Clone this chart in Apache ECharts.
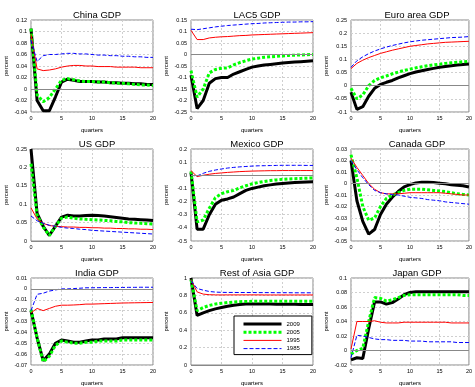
<!DOCTYPE html>
<html><head><meta charset="utf-8">
<script src="https://cdn.jsdelivr.net/npm/echarts@6/dist/echarts.min.js"></script>
<style>html,body{margin:0;padding:0;background:#fff}#c{width:475px;height:387px}</style>
</head><body><div id="c"></div>
<script>
const quarters = [0,1,2,3,4,5,6,7,8,9,10,11,12,13,14,15,16,17,18,19,20];
const seriesNames = ['2009','2005','1995','1985'];
const panelTitles = ['China GDP','LAC5 GDP','Euro area GDP','US GDP','Mexico GDP','Canada GDP','India GDP','Rest of Asia GDP','Japan GDP'];

const china2009 = [0.105,-0.02,-0.038,-0.038,-0.014,0.012,0.017,0.015,0.013,0.013,0.013,0.012,0.012,0.011,0.011,0.010,0.010,0.009,0.009,0.008,0.008];
const china2005 = [0.105,-0.01,-0.022,-0.015,0.0,0.015,0.018,0.016,0.014,0.013,0.013,0.012,0.012,0.011,0.010,0.010,0.009,0.008,0.007,0.007,0.006];
const china1995 = [0.095,0.035,0.032,0.033,0.035,0.038,0.040,0.041,0.041,0.040,0.040,0.039,0.039,0.039,0.038,0.038,0.038,0.038,0.037,0.037,0.037];
const china1985 = [0.085,0.048,0.058,0.060,0.060,0.061,0.062,0.062,0.061,0.061,0.060,0.059,0.059,0.058,0.058,0.057,0.057,0.056,0.056,0.055,0.055];

const lac2009 = [-0.09,-0.235,-0.2,-0.125,-0.105,-0.1,-0.1,-0.085,-0.075,-0.065,-0.055,-0.05,-0.046,-0.043,-0.04,-0.037,-0.035,-0.033,-0.031,-0.029,-0.027];
const lac2005 = [-0.07,-0.185,-0.15,-0.08,-0.065,-0.06,-0.058,-0.045,-0.035,-0.027,-0.02,-0.016,-0.012,-0.01,-0.008,-0.006,-0.004,-0.003,-0.002,-0.001,0.0];
const lac1995 = [0.105,0.065,0.065,0.072,0.075,0.077,0.078,0.08,0.082,0.083,0.085,0.086,0.087,0.088,0.089,0.09,0.091,0.092,0.093,0.094,0.095];
const lac1985 = [0.11,0.108,0.112,0.116,0.12,0.123,0.126,0.128,0.13,0.132,0.134,0.135,0.137,0.138,0.139,0.14,0.141,0.141,0.142,0.142,0.143];

const euro2009 = [-0.025,-0.09,-0.08,-0.04,-0.01,0.005,0.013,0.02,0.03,0.038,0.046,0.052,0.057,0.062,0.066,0.07,0.073,0.076,0.079,0.081,0.083];
const euro2005 = [-0.01,-0.05,-0.035,0.0,0.02,0.03,0.037,0.045,0.052,0.058,0.063,0.068,0.072,0.076,0.079,0.082,0.085,0.087,0.089,0.091,0.093];
const euro1995 = [0.065,0.085,0.097,0.107,0.115,0.123,0.129,0.135,0.14,0.145,0.15,0.153,0.156,0.159,0.161,0.163,0.165,0.166,0.167,0.168,0.169];
const euro1985 = [0.07,0.095,0.11,0.122,0.132,0.14,0.147,0.153,0.158,0.163,0.167,0.17,0.173,0.175,0.177,0.179,0.181,0.183,0.184,0.185,0.187];

const us2009 = [0.25,0.075,0.04,0.015,0.04,0.065,0.07,0.068,0.068,0.069,0.07,0.069,0.068,0.066,0.064,0.062,0.06,0.059,0.058,0.057,0.056];
const us2005 = [0.21,0.07,0.038,0.015,0.04,0.062,0.065,0.062,0.06,0.059,0.058,0.057,0.056,0.055,0.053,0.052,0.05,0.049,0.048,0.047,0.046];
const us1995 = [0.09,0.06,0.048,0.042,0.04,0.039,0.038,0.038,0.037,0.037,0.036,0.036,0.035,0.035,0.034,0.034,0.033,0.033,0.032,0.032,0.031];
const us1985 = [0.068,0.055,0.048,0.043,0.04,0.037,0.035,0.034,0.032,0.031,0.029,0.028,0.027,0.026,0.025,0.024,0.023,0.022,0.021,0.02,0.019];

const mex2009 = [0.02,-0.41,-0.41,-0.3,-0.22,-0.19,-0.18,-0.165,-0.14,-0.115,-0.1,-0.09,-0.08,-0.073,-0.067,-0.062,-0.058,-0.055,-0.053,-0.051,-0.05];
const mex2005 = [0.03,-0.355,-0.34,-0.25,-0.17,-0.14,-0.125,-0.115,-0.095,-0.08,-0.065,-0.055,-0.047,-0.04,-0.035,-0.031,-0.028,-0.026,-0.024,-0.022,-0.021];
const mex1995 = [0.035,-0.01,0.0,0.008,0.014,0.018,0.022,0.025,0.028,0.03,0.032,0.033,0.034,0.035,0.035,0.036,0.036,0.036,0.036,0.036,0.036];
const mex1985 = [0.0,-0.005,0.015,0.03,0.04,0.048,0.055,0.06,0.064,0.067,0.07,0.072,0.073,0.074,0.075,0.076,0.076,0.076,0.076,0.075,0.075];

const can2009 = [0.02,-0.015,-0.033,-0.044,-0.04,-0.027,-0.018,-0.012,-0.007,-0.003,-0.001,0.0005,0.001,0.001,0.0008,0.0003,-0.0003,-0.001,-0.0015,-0.002,-0.003];
const can2005 = [0.025,0.005,-0.02,-0.032,-0.03,-0.02,-0.013,-0.01,-0.008,-0.006,-0.005,-0.005,-0.005,-0.0055,-0.006,-0.0065,-0.007,-0.008,-0.009,-0.0095,-0.01];
const can1995 = [0.022,0.014,0.007,0.0,-0.005,-0.008,-0.009,-0.009,-0.009,-0.0085,-0.008,-0.008,-0.008,-0.008,-0.008,-0.008,-0.0085,-0.009,-0.0095,-0.01,-0.01];
const can1985 = [0.02,0.012,0.005,-0.001,-0.006,-0.008,-0.009,-0.0095,-0.01,-0.011,-0.012,-0.0125,-0.013,-0.014,-0.0145,-0.015,-0.016,-0.0165,-0.017,-0.0175,-0.018];

const ind2009 = [-0.02,-0.045,-0.066,-0.06,-0.05,-0.047,-0.048,-0.049,-0.049,-0.048,-0.047,-0.047,-0.046,-0.046,-0.046,-0.045,-0.045,-0.045,-0.045,-0.045,-0.045];
const ind2005 = [-0.019,-0.045,-0.067,-0.062,-0.052,-0.048,-0.049,-0.05,-0.05,-0.049,-0.049,-0.048,-0.048,-0.048,-0.048,-0.047,-0.047,-0.047,-0.047,-0.047,-0.047];
const ind1995 = [-0.022,-0.018,-0.02,-0.018,-0.016,-0.015,-0.015,-0.0148,-0.0145,-0.014,-0.014,-0.0138,-0.0136,-0.0134,-0.0132,-0.013,-0.0129,-0.0128,-0.0127,-0.0126,-0.0125];
const ind1985 = [-0.02,-0.005,-0.004,-0.002,-0.001,0.0,0.0,0.0003,0.0006,0.001,0.001,0.0011,0.0012,0.0012,0.0013,0.0013,0.0014,0.0014,0.0015,0.0015,0.0015];

const roa2009 = [1.0,0.57,0.6,0.625,0.645,0.66,0.675,0.687,0.695,0.7,0.7,0.7,0.7,0.7,0.699,0.698,0.697,0.697,0.696,0.695,0.695];
const roa2005 = [0.98,0.625,0.66,0.685,0.7,0.71,0.718,0.724,0.728,0.73,0.732,0.733,0.733,0.733,0.733,0.733,0.733,0.732,0.732,0.732,0.732];
const roa1995 = [0.98,0.84,0.815,0.808,0.806,0.805,0.806,0.806,0.806,0.806,0.806,0.806,0.805,0.805,0.805,0.805,0.805,0.805,0.805,0.805,0.805];
const roa1985 = [0.97,0.88,0.86,0.845,0.838,0.835,0.834,0.834,0.833,0.833,0.833,0.832,0.832,0.832,0.831,0.831,0.831,0.83,0.83,0.83,0.83];

const jpn2009 = [-0.013,-0.01,-0.011,0.03,0.067,0.067,0.064,0.066,0.071,0.077,0.08,0.081,0.081,0.081,0.081,0.081,0.081,0.081,0.081,0.081,0.081];
const jpn2005 = [-0.005,0.0,0.003,0.04,0.073,0.072,0.068,0.07,0.073,0.076,0.077,0.077,0.077,0.077,0.077,0.077,0.077,0.077,0.077,0.076,0.076];
const jpn1995 = [0.002,0.04,0.04,0.04,0.041,0.039,0.038,0.038,0.038,0.039,0.039,0.039,0.039,0.039,0.039,0.039,0.039,0.038,0.038,0.038,0.038];
const jpn1985 = [-0.01,0.021,0.02,0.018,0.016,0.015,0.015,0.014,0.014,0.014,0.013,0.013,0.013,0.012,0.012,0.012,0.012,0.012,0.011,0.011,0.011];

const yMins = [-0.04,-0.25,-0.1, 0,-0.5,-0.05, -0.07,0,-0.02];
const yMaxs = [0.12,0.15,0.25, 0.25,0.2,0.03, 0.01,1,0.1];
const yIntervals = [0.02,0.05,0.05, 0.05,0.1,0.01, 0.01,0.2,0.02];

const panelData = [
  [china2009,china2005,china1995,china1985],
  [lac2009,lac2005,lac1995,lac1985],
  [euro2009,euro2005,euro1995,euro1985],
  [us2009,us2005,us1995,us1985],
  [mex2009,mex2005,mex1995,mex1985],
  [can2009,can2005,can1995,can1985],
  [ind2009,ind2005,ind1995,ind1985],
  [roa2009,roa2005,roa1995,roa1985],
  [jpn2009,jpn2005,jpn1995,jpn1985]
];

const colLefts = [31,191,351];
const rowTops = [20,149,278];
const W = 122, H = 92;
const styles = [
  {color:'#000000', width:3, type:'solid'},
  {color:'#00ff00', width:3, type:[3,2]},
  {color:'#ff0000', width:1, type:'solid'},
  {color:'#0000ff', width:1, type:[4,2]}
];
const FONT = 'Liberation Sans, Arial, sans-serif';

const grid=[], xAxis=[], yAxis=[], series=[], title=[];
for (let p=0;p<9;p++){
  const r=Math.floor(p/3), c=p%3;
  grid.push({left:colLefts[c], top:rowTops[r], width:W, height:H, show:true, borderColor:'#888', borderWidth:1, backgroundColor:'#fff'});
  title.push({text:panelTitles[p], left:colLefts[c]+W/2, top:rowTops[r]-15, textAlign:'center',
    textStyle:{fontSize:9.5, fontWeight:'normal', color:'#000', fontFamily:FONT}});
  xAxis.push({type:'value', gridIndex:p, min:0, max:20, interval:5,
    name:'quarters', nameLocation:'middle', nameGap:15, nameTextStyle:{fontSize:6, color:'#000', fontFamily:FONT},
    axisLine:{show:false}, axisTick:{show:false},
    axisLabel:{fontSize:5.5, color:'#000', margin:3, fontFamily:FONT},
    splitLine:{show:true, lineStyle:{color:'#cfcfcf', type:[2,2], width:1}}});
  yAxis.push({type:'value', gridIndex:p, min:yMins[p], max:yMaxs[p], interval:yIntervals[p],
    name:'percent', nameLocation:'middle', nameGap:22, nameRotate:90, nameTextStyle:{fontSize:6, color:'#000', fontFamily:FONT},
    axisLine:{show:false}, axisTick:{show:false},
    axisLabel:{fontSize:5.5, color:'#000', margin:4, fontFamily:FONT},
    splitLine:{show:true, lineStyle:{color:'#cfcfcf', type:[2,2], width:1}}});
  for (let s=0;s<4;s++){
    const vals = panelData[p][s];
    const ser = {
      type:'line', name:seriesNames[s], xAxisIndex:p, yAxisIndex:p,
      data: quarters.map((q,i)=>[q, vals[i]]),
      symbol:'none', showSymbol:false, silent:true, animation:false,
      lineStyle:{color:styles[s].color, width:styles[s].width, type:styles[s].type, cap:'butt'},
      itemStyle:{color:styles[s].color}
    };
    if (s===0){
      ser.markLine = {silent:true, symbol:'none', animation:false, label:{show:false},
        lineStyle:{color:'#888', width:1, type:'solid'}, data:[{yAxis:0}]};
    }
    series.push(ser);
  }
}

const legendData = seriesNames.map((n,i)=>({name:n,
  lineStyle:{color:styles[i].color, width:styles[i].width, type:styles[i].type}}));

const chart = echarts.init(document.getElementById('c'), null, {renderer:'canvas'});
chart.setOption({
  animation:false,
  backgroundColor:'#fff',
  title, grid, xAxis, yAxis, series,
  legend:{
    data:legendData, orient:'vertical', left:234, top:316,
    itemWidth:38, itemHeight:7, itemGap:2.2,
    backgroundColor:'#fff', borderColor:'#000', borderWidth:1,
    padding:[5,12,3,8],
    itemStyle:{color:'rgba(0,0,0,0)', borderColor:'rgba(0,0,0,0)', borderWidth:0},
    textStyle:{fontSize:6, color:'#000', fontFamily:FONT, padding:[0,0,0,0]},
    selectedMode:false
  }
});
</script></body></html>
